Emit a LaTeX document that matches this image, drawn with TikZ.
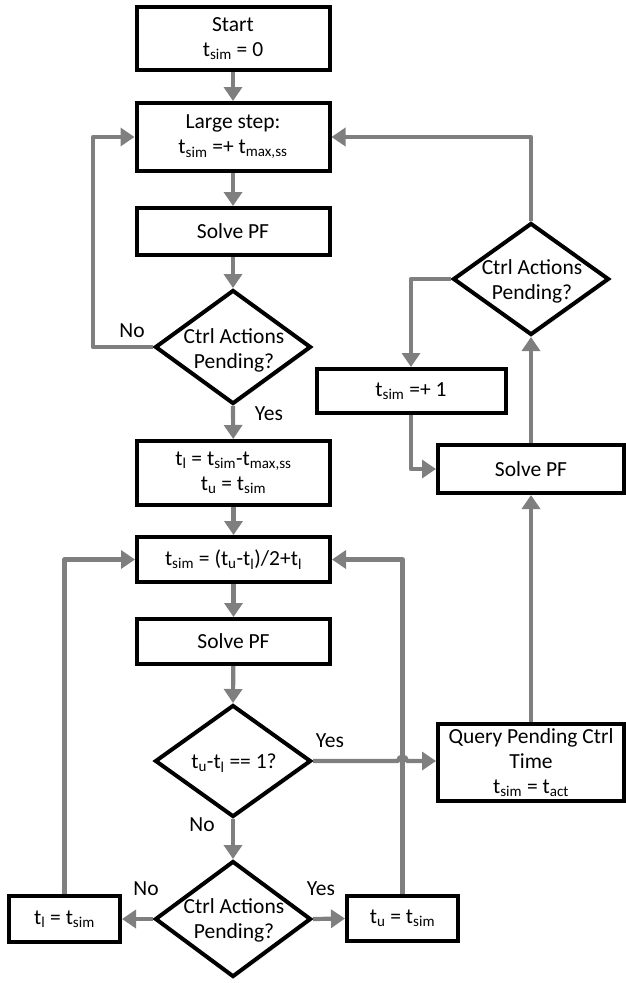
\documentclass[tikz,border=0pt]{standalone}
\usepackage{fontspec}
\setmainfont{Carlito}
\usetikzlibrary{arrows.meta,shapes.geometric,shadows}
\definecolor{arrgray}{HTML}{7F7F7F}
\definecolor{glow}{HTML}{C9DDF2}
\tikzset{
  txt/.style={font=\fontsize{21.5}{25}\selectfont, align=center, inner sep=0pt},
  box/.style={txt, draw=black, line width=4pt, fill=white,
    drop shadow={fill=glow, opacity=0.6, shadow xshift=1.5pt, shadow yshift=-2pt}},
  dia/.style={draw=black, line width=4pt, fill=white, diamond, inner sep=0pt,
    drop shadow={fill=glow, opacity=0.6, shadow xshift=1.5pt, shadow yshift=-2pt}},
  arr/.style={draw=arrgray, line width=4.2pt, line join=round,
    -{Triangle[length=14pt,width=18pt]}},
  lbl/.style={txt}
}
\begin{document}
\begin{tikzpicture}[x=1pt,y=-1pt]
\useasboundingbox (0,0) rectangle (626,983);

% main column
\node[box, minimum width=193, minimum height=63] (start) at (233,38.5) {Start\\t\textsubscript{sim} = 0};
\node[box, minimum width=193, minimum height=68] (large) at (233,137) {Large step:\\t\textsubscript{sim} =+ t\textsubscript{max,ss}};
\node[box, minimum width=193, minimum height=47] (solve1) at (233,231.5) {Solve PF};
\node[dia, minimum width=156, minimum height=114] (d1) at (233,347) {};
\node[txt] (d1t) at (234,350) {Ctrl Actions\\Pending?};
\node[box, minimum width=193, minimum height=64] (tl) at (233.5,473) {t\textsubscript{l} = t\textsubscript{sim}-t\textsubscript{max,ss}\\t\textsubscript{u} = t\textsubscript{sim}};
\node[box, minimum width=193, minimum height=45] (tsim) at (233.5,559.5) {t\textsubscript{sim} = (t\textsubscript{u}-t\textsubscript{l})/2+t\textsubscript{l}};
\node[box, minimum width=193, minimum height=45] (solve2) at (233.5,641.5) {Solve PF};
\node[dia, minimum width=156, minimum height=112] (d2) at (233,761) {};
\node[txt] (d2t) at (234,763) {t\textsubscript{u}-t\textsubscript{l} == 1?};
\node[dia, minimum width=156, minimum height=116] (d3) at (233,919) {};
\node[txt] (d3t) at (234,920) {Ctrl Actions\\Pending?};
\node[box, minimum width=111, minimum height=46] (tl2) at (64.5,919) {t\textsubscript{l} = t\textsubscript{sim}};
\node[box, minimum width=111, minimum height=45] (tu2) at (402.5,918.5) {t\textsubscript{u} = t\textsubscript{sim}};

% right column
\node[dia, minimum width=156, minimum height=112] (dR) at (531,279) {};
\node[txt] (dRt) at (532,281) {Ctrl Actions\\Pending?};
\node[box, minimum width=189, minimum height=44] (plus1) at (411,391) {t\textsubscript{sim} =+ 1};
\node[box, minimum width=186, minimum height=48] (solveR) at (531,469) {Solve PF};
\node[box, minimum width=186, minimum height=77] (query) at (531,762.5) {Query Pending Ctrl\\Time\\t\textsubscript{sim} = t\textsubscript{act}};

% labels
\node[lbl] (no1) at (132,331) {No};
\node[lbl] (yes1) at (269,414) {Yes};
\node[lbl] (yes2) at (330,741) {Yes};
\node[lbl] (no2) at (202,825) {No};
\node[lbl] (no3) at (146,889) {No};
\node[lbl] (yes3) at (321,889) {Yes};

% main chain
\draw[arr] (start) -- (large);
\draw[arr] (large) -- (solve1);
\draw[arr] (solve1) -- (d1.north);
\draw[arr] (d1.south) -- (tl);
\draw[arr] (tl) -- (tsim);
\draw[arr] (tsim) -- (solve2);
\draw[arr] (solve2) -- (d2.north);
\draw[arr] (d2.south) -- (d3.north);
\draw[arr] (d3.west) -- (tl2.east);
\draw[arr] (d3.east) -- (tu2.west);

% loops
\coordinate (c1) at (93,347);
\draw[arr] (d1.west) -- (c1) |- (large.west);
\draw[arr] (dR.north) |- (large.east);
\draw[arr] (dR.west) -| (plus1.north);
\draw[arr] (plus1.south) |- (solveR.west);
\draw[arr] (solveR.north) -- (dR.south);
\draw[arr] (query.north) -- (solveR.south);
\draw[arr] (tl2.north) |- (tsim.west);
\draw[arr] (tu2.north) |- (tsim.east);
\coordinate (hop) at (tu2.north |- d2.east);
\draw[arr] (d2.east) -- ([xshift=-4.5pt]hop) arc[start angle=180,end angle=0,radius=4.5pt] -- (query.west |- hop);
\end{tikzpicture}
\end{document}
